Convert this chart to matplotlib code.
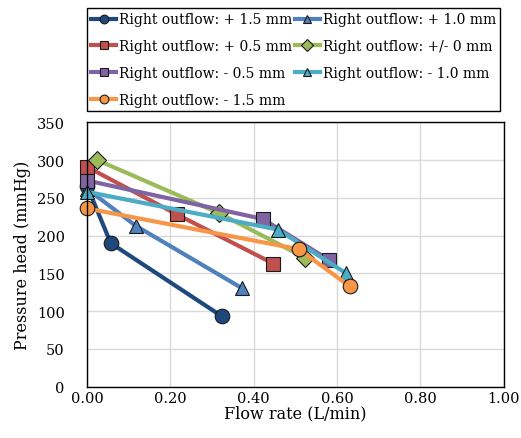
import matplotlib.pyplot as plt
from matplotlib.ticker import FormatStrFormatter, MultipleLocator

plt.rcParams['font.family'] = ['DejaVu Serif']

labels = ['Right outflow: + 1.5 mm', 'Right outflow: + 1.0 mm',
          'Right outflow: + 0.5 mm', 'Right outflow: +/- 0 mm',
          'Right outflow: - 0.5 mm', 'Right outflow: - 1.0 mm',
          'Right outflow: - 1.5 mm']

flow_p15 = [0.0, 0.057, 0.324]
head_p15 = [266, 190, 93]
flow_p10 = [0.0, 0.117, 0.373]
head_p10 = [262, 213, 130]
flow_p05 = [0.0, 0.216, 0.447]
head_p05 = [291, 228, 163]
flow_0 = [0.025, 0.316, 0.522]
head_0 = [300, 230, 171]
flow_m05 = [0.0, 0.422, 0.580]
head_m05 = [273, 222, 168]
flow_m10 = [0.0, 0.458, 0.622]
head_m10 = [258, 208, 150]
flow_m15 = [0.0, 0.508, 0.630]
head_m15 = [236, 182, 133]

series = [
    (flow_p15, head_p15, '#1F497D', 'o', 10.5),
    (flow_p10, head_p10, '#4F81BD', '^', 10),
    (flow_p05, head_p05, '#C0504D', 's', 10),
    (flow_0, head_0, '#9BBB59', 'D', 9.5),
    (flow_m05, head_m05, '#8064A2', 's', 10),
    (flow_m10, head_m10, '#4BACC6', '^', 10),
    (flow_m15, head_m15, '#F79646', 'o', 10.5),
]

fig = plt.figure(figsize=(5.21, 4.39), dpi=100)
ax = fig.add_axes([0.167, 0.117, 0.8, 0.602])

handles = []
for (x, y, c, m, ms), lab in zip(series, labels):
    h, = ax.plot(x, y, color=c, lw=3, marker=m, markersize=ms,
                 markerfacecolor=c, markeredgecolor='#1a1a1a', markeredgewidth=0.8,
                 label=lab, clip_on=False)
    handles.append(h)

ax.set_xlim(0, 1.0)
ax.set_ylim(0, 350)
ax.xaxis.set_major_locator(MultipleLocator(0.2))
ax.yaxis.set_major_locator(MultipleLocator(50))
ax.xaxis.set_major_formatter(FormatStrFormatter('%.2f'))
ax.grid(True, color='#d9d9d9', lw=1)
ax.set_axisbelow(True)
for s in ax.spines.values():
    s.set_color('black')
    s.set_linewidth(1)
ax.tick_params(axis='x', length=0, pad=3, labelsize=10.5)
ax.tick_params(axis='y', length=0, pad=16, labelsize=10.5)
ax.set_xlabel('Flow rate (L/min)', fontsize=11.5, labelpad=0)
ax.set_ylabel('Pressure head (mmHg)', fontsize=11.5, labelpad=4)

# legend fills row by row in the original
order = [0, 2, 4, 6, 1, 3, 5]
leg = ax.legend([handles[i] for i in order], [labels[i] for i in order],
                loc='lower left', bbox_to_anchor=(0.0, 1.043), ncol=2,
                fontsize=10, markerscale=0.6, handlelength=1.8,
                handletextpad=0.2, columnspacing=0.2, labelspacing=0.92,
                borderpad=0.3, borderaxespad=0, fancybox=False,
                edgecolor='black', framealpha=1)
leg.get_frame().set_linewidth(1)

fig.savefig('out.png', dpi=100)
